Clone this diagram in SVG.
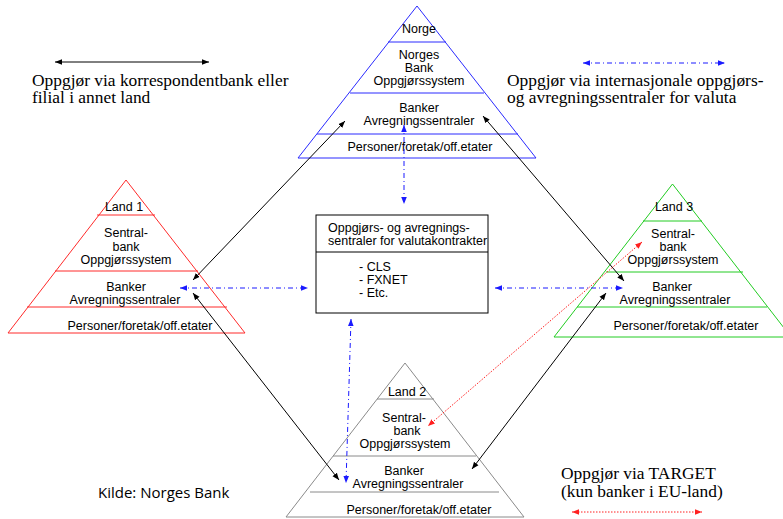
<svg xmlns="http://www.w3.org/2000/svg" width="783" height="519" viewBox="0 0 783 519">
<style>
.t{font-family:"Liberation Sans",Arial,sans-serif;font-size:12.5px;fill:#000;text-anchor:middle}
.tl{font-family:"Liberation Sans",Arial,sans-serif;font-size:12.5px;fill:#000}
.leg{font-family:"Liberation Serif","Times New Roman",serif;font-size:17.4px;fill:#000}
.src{font-family:"Open Sans","Noto Sans",sans-serif;font-size:15px;fill:#000}
.pb{fill:none;stroke:#2a2aff;stroke-width:1}
.pr{fill:none;stroke:#ff2a2a;stroke-width:1}
.pg{fill:none;stroke:#22cc22;stroke-width:1}
.pk{fill:none;stroke:#8a8a8a;stroke-width:1}
.ck{fill:none;stroke:#000;stroke-width:1;marker-start:url(#mk);marker-end:url(#mk)}
.cb{fill:none;stroke:#1a1aff;stroke-width:1;stroke-dasharray:5 3 1 3;marker-start:url(#mb);marker-end:url(#mb)}
.cr{fill:none;stroke:#ff2020;stroke-width:1;stroke-dasharray:1.5 1.5;marker-start:url(#mr);marker-end:url(#mr)}
</style>
<defs>
<marker id="mk" viewBox="0 0 10 10" refX="10" refY="5" markerWidth="7" markerHeight="7" orient="auto-start-reverse"><path d="M0,1 L10,5 L0,9 z" fill="#000"/></marker>
<marker id="mb" viewBox="0 0 10 10" refX="10" refY="5" markerWidth="7" markerHeight="7" orient="auto-start-reverse"><path d="M0,1 L10,5 L0,9 z" fill="#1a1aff"/></marker>
<marker id="mr" viewBox="0 0 10 10" refX="10" refY="5" markerWidth="7" markerHeight="7" orient="auto-start-reverse"><path d="M0,1 L10,5 L0,9 z" fill="#ff2020"/></marker>
</defs>
<rect width="783" height="519" fill="#fff"/>

<g id="norge">
<path class="pb" d="M417,6 L536,158 L298,158 Z"/>
<line class="pb" x1="388" y1="42" x2="446" y2="42"/>
<line class="pb" x1="350" y1="93" x2="484" y2="93"/>
<line class="pb" x1="317" y1="134" x2="518" y2="134"/>
<text class="t" x="419" y="33">Norge</text>
<text class="t" x="419" y="59">Norges</text>
<text class="t" x="419" y="72">Bank</text>
<text class="t" x="419" y="85">Oppgjørssystem</text>
<text class="t" x="419" y="112">Banker</text>
<text class="t" x="419" y="125">Avregningssentraler</text>
<text class="t" x="420" y="151">Personer/foretak/off.etater</text>
</g>

<g id="land1">
<path class="pr" d="M126,180 L245,333 L8,333 Z"/>
<line class="pr" x1="97" y1="215" x2="155" y2="215"/>
<line class="pr" x1="55" y1="271" x2="198" y2="271"/>
<line class="pr" x1="27" y1="307" x2="227" y2="307"/>
<text class="t" x="124" y="211">Land 1</text>
<text class="t" x="126" y="237">Sentral-</text>
<text class="t" x="126" y="251">bank</text>
<text class="t" x="126" y="264">Oppgjørssystem</text>
<text class="t" x="126" y="291">Banker</text>
<text class="t" x="125" y="304">Avregningssentraler</text>
<text class="t" x="140" y="330">Personer/foretak/off.etater</text>
</g>

<g id="land3">
<path class="pg" d="M672.5,184 L791,337 L554,337 Z"/>
<line class="pg" x1="643" y1="221" x2="702" y2="221"/>
<line class="pg" x1="606" y1="272" x2="743" y2="272"/>
<line class="pg" x1="577" y1="307" x2="767" y2="307"/>
<text class="t" x="674" y="211">Land 3</text>
<text class="t" x="673" y="238">Sentral-</text>
<text class="t" x="673" y="251">bank</text>
<text class="t" x="673" y="264">Oppgjørssystem</text>
<text class="t" x="672" y="291">Banker</text>
<text class="t" x="675" y="304">Avregningssentraler</text>
<text class="t" x="686" y="330">Personer/foretak/off.etater</text>
</g>

<g id="land2">
<path class="pk" d="M405,363 L524,517 L286,517 Z"/>
<line class="pk" x1="377" y1="399" x2="434" y2="399"/>
<line class="pk" x1="333" y1="456" x2="476" y2="456"/>
<line class="pk" x1="310" y1="492" x2="499" y2="492"/>
<text class="t" x="407" y="396">Land 2</text>
<text class="t" x="404" y="422">Sentral-</text>
<text class="t" x="407" y="435">bank</text>
<text class="t" x="405" y="448">Oppgjørssystem</text>
<text class="t" x="404" y="475">Banker</text>
<text class="t" x="408" y="488">Avregningssentraler</text>
<text class="t" x="419" y="514">Personer/foretak/off.etater</text>
</g>

<g id="central">
<rect x="316" y="215" width="172" height="98" fill="#fff" stroke="#000" stroke-width="1"/>
<line x1="316" y1="252" x2="488" y2="252" stroke="#000" stroke-width="1"/>
<text class="tl" x="328" y="232">Oppgjørs- og avregnings-</text>
<text class="tl" x="328" y="245">sentraler for valutakontrakter</text>
<text class="tl" x="359" y="271">- CLS</text>
<text class="tl" x="359" y="284">- FXNET</text>
<text class="tl" x="359" y="297">- Etc.</text>
</g>

<g id="connectors">
<line class="ck" x1="193" y1="280" x2="345" y2="121"/>
<line class="ck" x1="483" y1="116" x2="624" y2="281"/>
<line class="ck" x1="193" y1="293" x2="339" y2="480"/>
<line class="ck" x1="606" y1="293" x2="472" y2="469"/>
<line class="cb" x1="404" y1="125" x2="404" y2="204"/>
<line class="cb" x1="180" y1="288" x2="308" y2="288"/>
<line class="cb" x1="495" y1="288" x2="623" y2="288"/>
<line class="cb" x1="351" y1="319" x2="346" y2="483"/>
<line class="cr" x1="642" y1="242" x2="428" y2="426"/>
</g>

<g id="legend">
<line class="ck" x1="55" y1="62" x2="209" y2="62"/>
<text class="leg" x="32" y="86">Oppgjør via korrespondentbank eller</text>
<text class="leg" x="32" y="103">filial i annet land</text>
<line class="cb" x1="583" y1="63" x2="725" y2="63"/>
<text class="leg" x="507" y="86">Oppgjør via internasjonale oppgjørs-</text>
<text class="leg" x="507" y="103">og avregningssentraler for valuta</text>
<text class="leg" x="561" y="479">Oppgjør via TARGET</text>
<text class="leg" x="561" y="497">(kun banker i EU-land)</text>
<line class="cr" x1="572" y1="512" x2="702" y2="512"/>
<text class="src" x="98" y="498">Kilde: Norges Bank</text>
</g>
</svg>
